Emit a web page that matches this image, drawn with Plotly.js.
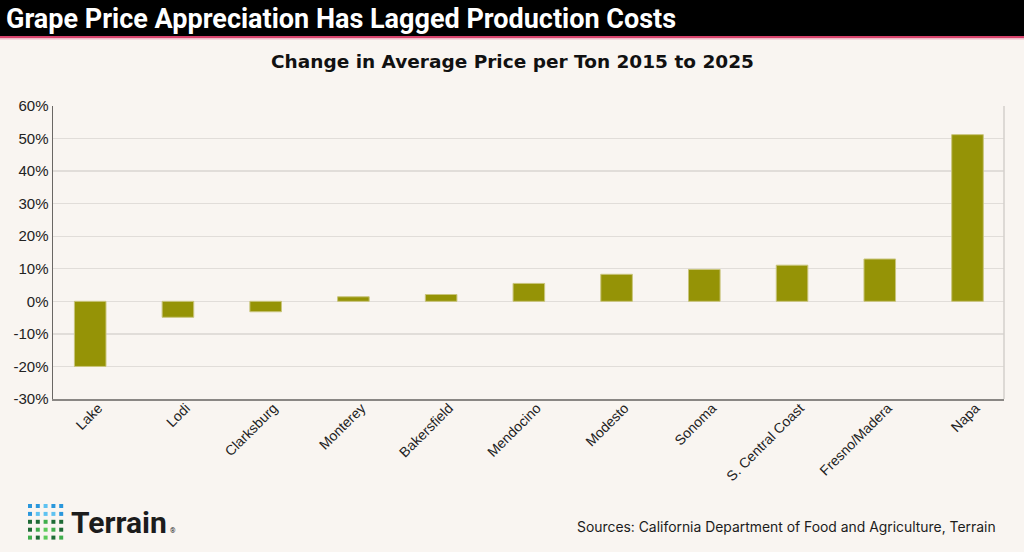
<!DOCTYPE html>
<html>
<head>
<meta charset="utf-8">
<script src="https://cdn.plot.ly/plotly-3.0.1.min.js"></script>
<style>
  html, body { margin: 0; padding: 0; background: #f9f5f1; }
  #chart { width: 1024px; height: 552px; }
</style>
</head>
<body>
<div id="chart"></div>
<script>
// ---- Data ----
const regions = ["Lake", "Lodi", "Clarksburg", "Monterey", "Bakersfield", "Mendocino",
                 "Modesto", "Sonoma", "S. Central Coast", "Fresno/Madera", "Napa"];
const priceChangePct = [-20.0, -4.9, -3.2, 1.4, 2.1, 5.5, 8.3, 9.8, 11.1, 13.0, 51.2];
const yTickVals = [-30, -20, -10, 0, 10, 20, 30, 40, 50, 60];
const yTickText = ["-30%", "-20%", "-10%", "0%", "10%", "20%", "30%", "40%", "50%", "60%"];

const titleText = "Grape Price Appreciation Has Lagged Production Costs";
const subtitleText = "Change in Average Price per Ton 2015 to 2025";
const sourceText = "Sources: California Department of Food and Agriculture, Terrain";

// ---- Layout helpers (pixel -> paper) ----
const W = 1024, H = 552;
const M = { l: 53, r: 20, t: 106, b: 153 };
const pw = W - M.l - M.r, ph = H - M.t - M.b;
const px = x => (x - M.l) / pw;
const py = y => (H - M.b - y) / ph;

const shapes = [
  { type: "rect", xref: "paper", yref: "paper", x0: px(0), x1: px(W), y0: py(0), y1: py(36),
    fillcolor: "#000000", line: { width: 0 }, layer: "below" },
  { type: "rect", xref: "paper", yref: "paper", x0: px(0), x1: px(W), y0: py(36), y1: py(38.3),
    fillcolor: "#d8436c", line: { width: 0 }, layer: "below" },
  { type: "rect", xref: "paper", yref: "paper", x0: px(0), x1: px(W), y0: py(38.3), y1: py(39.5),
    fillcolor: "#efb6c4", line: { width: 0 }, layer: "below" },
  { type: "line", xref: "paper", yref: "paper", x0: 1, x1: 1, y0: 0, y1: 1,
    line: { color: "#d3cfcb", width: 1.5 } }
];

// Terrain logo grid (decoration)
const logoColors = [
  ["#2a97dc", "#2a97dc", "#5ec2f1", "#2a97dc", "#2a97dc"],
  ["#2a97dc", "#5ec2f1", "#5ec2f1", "#5ec2f1", "#2a97dc"],
  ["#1e6b36", "#1e6b36", "#3fae4c", "#1e6b36", "#1e6b36"],
  ["#1e6b36", "#3fae4c", "#5ccb5a", "#3fae4c", "#1e6b36"],
  ["#3fae4c", "#1e6b36", "#5ccb5a", "#1e6b36", "#3fae4c"]
];
for (let r = 0; r < 5; r++) {
  for (let c = 0; c < 5; c++) {
    const x0 = 28 + c * 7.8, y0 = 504 + r * 7.9;
    shapes.push({ type: "rect", xref: "paper", yref: "paper",
      x0: px(x0), x1: px(x0 + 4), y0: py(y0), y1: py(y0 + 4),
      fillcolor: logoColors[r][c], line: { width: 0 } });
  }
}

const annotations = [
  { text: titleText, xref: "paper", yref: "paper", x: px(4), y: py(18.5),
    xanchor: "left", yanchor: "middle", showarrow: false,
    font: { family: "Roboto, sans-serif", size: 27, weight: 700, color: "#ffffff" } },
  { text: subtitleText, xref: "paper", yref: "paper", x: px(512), y: py(62),
    xanchor: "center", yanchor: "middle", showarrow: false,
    font: { family: "'DejaVu Sans', sans-serif", size: 18.5, weight: 700, color: "#111111" } },
  { text: "Terrain", xref: "paper", yref: "paper", x: px(69), y: py(522),
    xanchor: "left", yanchor: "middle", showarrow: false,
    font: { family: "Roboto, sans-serif", size: 30, weight: 700, color: "#1c1c1c" } },
  { text: "®", xref: "paper", yref: "paper", x: px(168), y: py(531),
    xanchor: "left", yanchor: "middle", showarrow: false,
    font: { family: "Roboto, sans-serif", size: 7, color: "#1c1c1c" } },
  { text: sourceText, xref: "paper", yref: "paper", x: px(998), y: py(527),
    xanchor: "right", yanchor: "middle", showarrow: false,
    font: { family: "Inter, sans-serif", size: 13.9, color: "#1c1c1c" } }
];

const trace = {
  type: "bar",
  x: regions,
  y: priceChangePct,
  marker: { color: "#959306", line: { color: "#c9c57c", width: 1 } },
  hoverinfo: "x+y"
};

const layout = {
  width: W, height: H,
  margin: M,
  paper_bgcolor: "#f9f5f1",
  plot_bgcolor: "#f9f5f1",
  showlegend: false,
  bargap: 0.64,
  xaxis: {
    type: "category",
    range: [-0.424, 10.416],
    showgrid: false,
    zeroline: false,
    showline: true, linecolor: "#8a8784", linewidth: 1.5,
    ticks: "",
    tickangle: -45,
    ticklabelshift: 8,
    ticklabelstandoff: -6,
    tickfont: { family: "'Liberation Sans', Arial, sans-serif", size: 14, color: "#222222" },
    automargin: false
  },
  yaxis: {
    range: [-30, 60],
    tickvals: yTickVals,
    ticktext: yTickText,
    showgrid: true, gridcolor: "#e1ddd9", gridwidth: 1.3,
    zeroline: true, zerolinecolor: "#e1ddd9", zerolinewidth: 1.3,
    showline: true, linecolor: "#6a6764", linewidth: 1.5,
    ticks: "",
    ticklabelstandoff: 0,
    tickfont: { family: "'Liberation Sans', Arial, sans-serif", size: 15, color: "#222222" },
    automargin: false
  },
  shapes: shapes,
  annotations: annotations
};

Plotly.newPlot("chart", [trace], layout, { displayModeBar: false, staticPlot: true });
</script>
</body>
</html>
